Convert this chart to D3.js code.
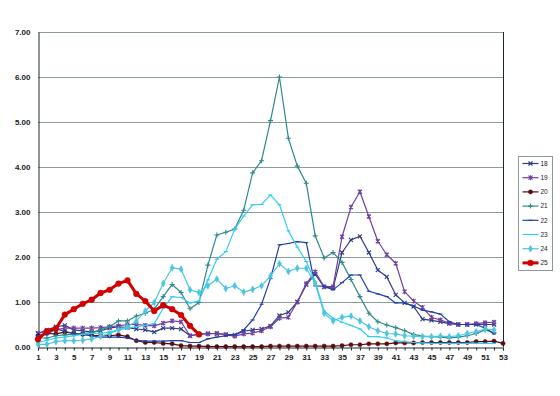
<!DOCTYPE html>
<html>
<head>
<meta charset="utf-8">
<script src="https://cdn.jsdelivr.net/npm/d3@7"></script>
<style>
html,body{margin:0;padding:0;background:#fff;}
svg{display:block;font-family:"Liberation Sans",Arial,sans-serif;}
</style>
</head>
<body>
<svg id="chart" width="560" height="396"></svg>
<script>
const weeks = d3.range(1, 54);
const yTicks = [0, 1, 2, 3, 4, 5, 6, 7];
const xTickLabels = d3.range(1, 54, 2);
const seriesNames = ["18", "19", "20", "21", "22", "23", "24", "25"];

const s18 = [0.30,0.38,0.45,0.48,0.38,0.36,0.33,0.36,0.42,0.45,0.43,0.40,0.38,0.33,0.42,0.42,0.40,0.25,0.28,0.30,0.30,0.28,0.27,0.35,0.38,0.40,0.47,0.70,0.77,1.00,1.38,1.62,1.33,1.31,2.10,2.38,2.46,2.10,1.71,1.56,1.16,0.98,0.90,0.62,0.59,0.56,0.52,0.50,0.50,0.50,0.50,0.50];
const s19 = [0.30,0.35,0.38,0.42,0.42,0.42,0.42,0.43,0.45,0.47,0.50,0.50,0.48,0.47,0.53,0.58,0.56,0.25,0.29,0.29,0.30,0.27,0.24,0.29,0.31,0.36,0.45,0.64,0.66,1.00,1.41,1.67,1.34,1.34,2.45,3.11,3.45,2.90,2.35,2.05,1.86,1.23,1.02,0.88,0.66,0.60,0.53,0.50,0.50,0.52,0.54,0.55];
const s20 = [0.25,0.30,0.29,0.33,0.30,0.28,0.26,0.25,0.25,0.27,0.23,0.14,0.10,0.10,0.08,0.07,0.03,0.02,0.02,0.01,0.01,0.01,0.01,0.01,0.01,0.01,0.02,0.02,0.02,0.02,0.02,0.02,0.02,0.02,0.03,0.05,0.05,0.07,0.07,0.07,0.09,0.09,0.09,0.10,0.10,0.10,0.10,0.10,0.10,0.12,0.12,0.13,0.08];
const s21 = [0.20,0.20,0.25,0.27,0.28,0.30,0.32,0.38,0.45,0.58,0.58,0.69,0.75,0.84,1.12,1.39,1.21,0.85,0.99,1.82,2.49,2.55,2.62,3.04,3.87,4.14,5.03,6.00,4.64,4.02,3.64,2.47,1.98,2.10,1.88,1.50,1.12,0.75,0.56,0.49,0.43,0.36,0.28,0.24,0.23,0.22,0.20,0.22,0.25,0.30,0.38,0.32];
const s22 = [0.25,0.28,0.40,0.35,0.30,0.28,0.25,0.22,0.22,0.22,0.20,0.15,0.13,0.13,0.13,0.14,0.14,0.10,0.10,0.18,0.22,0.25,0.27,0.38,0.60,0.95,1.52,2.27,2.30,2.34,2.32,1.36,1.35,1.27,1.43,1.60,1.60,1.24,1.18,1.12,0.98,0.98,0.91,0.82,0.78,0.73,0.56,0.50,0.50,0.50,0.42,0.29];
const s23 = [0.10,0.15,0.20,0.22,0.25,0.28,0.30,0.30,0.33,0.38,0.42,0.45,0.48,0.52,0.86,1.12,1.10,0.98,1.02,1.49,1.95,2.12,2.62,2.91,3.16,3.17,3.38,3.16,2.58,2.22,1.90,1.45,0.80,0.64,0.55,0.48,0.40,0.23,0.23,0.20,0.14,0.12,0.10,0.09,0.08,0.08,0.08,0.08,0.08,0.08,0.08,0.08];
const s24 = [0.06,0.06,0.12,0.14,0.14,0.15,0.18,0.24,0.30,0.38,0.45,0.58,0.80,0.99,1.41,1.76,1.73,1.27,1.21,1.36,1.51,1.30,1.36,1.22,1.28,1.36,1.58,1.85,1.68,1.75,1.75,1.41,0.75,0.58,0.66,0.69,0.58,0.45,0.36,0.30,0.29,0.25,0.24,0.23,0.23,0.24,0.23,0.25,0.30,0.34,0.40,0.38];
const s25 = [0.17,0.35,0.41,0.72,0.84,0.96,1.05,1.20,1.27,1.41,1.48,1.18,1.02,0.80,0.93,0.84,0.71,0.47,0.28];

const seriesValues = [s18, s19, s20, s21, s22, s23, s24, s25];
const seriesColors = ["#2E3C86", "#7040A0", "#5A0A12", "#2E8A8A", "#1F40A8", "#33CCF5", "#4CC6DE", "#D00000"];
const seriesMarkers = ["x", "asterisk", "circle", "plus", "dash", "dash", "diamond", "bigcircle"];

const svg = d3.select("#chart");
const W = 560, H = 396;
const plot = {left: 38, right: 503, top: 32, bottom: 347};

const x = d3.scaleLinear().domain([1, 53]).range([plot.left, plot.right]);
const y = d3.scaleLinear().domain([0, 7]).range([plot.bottom, plot.top]);

// gridlines
const grid = svg.append("g");
yTicks.filter(d => d > 0).forEach(t => {
  grid.append("line")
    .attr("x1", plot.left).attr("x2", plot.right)
    .attr("y1", Math.round(y(t)) + 0.5).attr("y2", Math.round(y(t)) + 0.5)
    .attr("stroke", "#8C9C9C").attr("stroke-width", 1);
});

// right border
svg.append("line")
  .attr("x1", plot.right + 0.5).attr("x2", plot.right + 0.5)
  .attr("y1", plot.top).attr("y2", plot.bottom)
  .attr("stroke", "#1a2a2a").attr("stroke-width", 1);

// y axis
const yAxis = d3.axisLeft(y).tickValues(yTicks).tickFormat(d3.format(".2f")).tickSize(0).tickPadding(8);
const gy = svg.append("g").attr("transform", `translate(${plot.left + 0.5},0)`).call(yAxis);
gy.select(".domain").attr("stroke", "#1a2a2a");
gy.selectAll("text").attr("font-size", 8).attr("font-weight", "bold").attr("fill", "#222")
  .attr("font-family", "Liberation Sans, Arial, sans-serif");

// x axis
const xAxis = d3.axisBottom(x).tickValues(weeks).tickSize(3).tickPadding(4)
  .tickFormat(d => (d % 2 === 1 ? d : ""));
const gx = svg.append("g").attr("transform", `translate(0,${plot.bottom + 0.5})`).call(xAxis);
gx.select(".domain").attr("stroke", "#1a2a2a");
gx.selectAll(".tick line").attr("stroke", "#1a2a2a");
gx.selectAll("text").attr("font-size", 8).attr("font-weight", "bold").attr("fill", "#222")
  .attr("font-family", "Liberation Sans, Arial, sans-serif");

function markerPath(type, s) {
  s = s || 1;
  switch (type) {
    case "x": return `M${-2*s},${-2*s}L${2*s},${2*s}M${-2*s},${2*s}L${2*s},${-2*s}`;
    case "asterisk": return `M${-2*s},${-2*s}L${2*s},${2*s}M${-2*s},${2*s}L${2*s},${-2*s}M0,${-2.5*s}V${2.5*s}`;
    case "plus": return `M${-2.5*s},0H${2.5*s}M0,${-2.5*s}V${2.5*s}`;
    case "dash": return `M${-2*s},0H${2*s}`;
    case "circle": return d3.symbol(d3.symbolCircle, 14 * s * s)();
    case "diamond": return d3.symbol(d3.symbolDiamond, 14 * s * s)();
    case "bigcircle": return d3.symbol(d3.symbolCircle, 26 * s * s)();
  }
}
function isFilled(type) { return type === "circle" || type === "diamond" || type === "bigcircle"; }

const line = d3.line().x((d, i) => x(weeks[i])).y(d => y(d));

seriesValues.forEach((vals, si) => {
  const color = seriesColors[si];
  const mk = seriesMarkers[si];
  const g = svg.append("g");
  const thick = mk === "bigcircle";
  g.append("path").datum(vals)
    .attr("d", line)
    .attr("fill", "none")
    .attr("stroke", color)
    .attr("stroke-width", thick ? 3 : 1.2)
    .attr("stroke-linejoin", "round");
  g.selectAll("path.m").data(vals).join("path").attr("class", "m")
    .attr("transform", (d, i) => `translate(${x(weeks[i])},${y(d)})`)
    .attr("d", markerPath(mk))
    .attr("fill", isFilled(mk) ? color : "none")
    .attr("stroke", color)
    .attr("stroke-width", isFilled(mk) ? 0.5 : 1.1);
});

// legend
const lg = svg.append("g");
lg.append("rect").attr("x", 518.5).attr("y", 156.5).attr("width", 34).attr("height", 114)
  .attr("fill", "#fff").attr("stroke", "#8a9a9a");
seriesNames.forEach((name, i) => {
  const cy = 163.5 + i * 14.2;
  const color = seriesColors[i];
  const mk = seriesMarkers[i];
  lg.append("line").attr("x1", 522.5).attr("x2", 538.5).attr("y1", cy).attr("y2", cy)
    .attr("stroke", color).attr("stroke-width", mk === "bigcircle" ? 3 : 1.2);
  lg.append("path").attr("transform", `translate(530.5,${cy})`)
    .attr("d", markerPath(mk))
    .attr("fill", isFilled(mk) ? color : "none")
    .attr("stroke", color).attr("stroke-width", isFilled(mk) ? 0.5 : 1.1);
  lg.append("text").attr("x", 540.5).attr("y", cy).attr("dy", "0.35em")
    .attr("font-size", 6.5).attr("fill", "#222").text(name);
});
</script>
</body>
</html>
